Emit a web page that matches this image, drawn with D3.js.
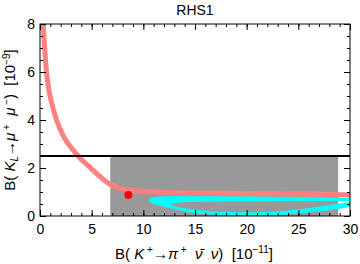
<!DOCTYPE html>
<html>
<head>
<meta charset="utf-8">
<script src="https://cdn.jsdelivr.net/npm/d3@7"></script>
<style>
  body { margin: 0; background: #fff; }
  svg { display: block; }
  text { font-family: "Liberation Sans", Arial, sans-serif; }
</style>
</head>
<body>
<div id="chart"></div>
<script>
// chart values
const title = "RHS1";
const xTicks = [0, 5, 10, 15, 20, 25, 30];
const yTicks = [0, 2, 4, 6, 8];
const xMinor = d3.range(0, 31, 1);
const yMinor = d3.range(0, 8.01, 0.5);
const klBound = 2.5;              // horizontal bound on B(KL -> mu mu)
const kpRange = [6.8, 28.85];     // allowed B(K+ -> pi nu nu) range (grey box)
const smPoint = [8.55, 0.875];

// pink band (centre line)
const pinkBand = [
  [0.28, 8.6], [0.32, 8.0], [0.45, 7.0], [0.61, 6.08], [0.84, 5.3], [1.2, 4.6],
  [1.6, 4.0], [2.3, 3.3], [3.1, 2.8], [3.8, 2.45], [4.9, 2.0], [5.7, 1.68],
  [6.5, 1.4], [7.3, 1.22], [8.3, 1.1], [9.5, 1.04], [11, 1.0], [13, 0.97],
  [16, 0.95], [20, 0.94], [25, 0.92], [28, 0.9], [30, 0.88], [31, 0.87]
];

// cyan region: outer contour and inner hole
const cyanOuter = [
  [31, 0.76], [30, 0.76], [25, 0.79], [20, 0.81], [15, 0.82], [13, 0.83], [12, 0.82],
  [11.3, 0.8], [10.8, 0.76], [10.5, 0.67], [10.7, 0.56], [11.3, 0.46], [12.9, 0.29],
  [14.5, 0.15], [16.1, 0.07], [18, 0.03], [20, 0.01], [22, 0.02], [23.5, 0.05],
  [24.9, 0.1], [27.1, 0.2], [28.7, 0.28], [30, 0.375], [31, 0.43]
];
const cyanHole = [
  [31, 0.63], [30, 0.625], [25, 0.61], [20, 0.6], [16, 0.59], [14, 0.57], [13, 0.53],
  [12.6, 0.48], [12.9, 0.43], [14.5, 0.29], [16.1, 0.21], [18, 0.17], [20, 0.16],
  [22, 0.17], [24.9, 0.27], [27.1, 0.4], [28.7, 0.5], [30, 0.58], [31, 0.615]
];

const width = 360, height = 264;
const margin = { left: 40, right: 10, top: 24, bottom: 48 };

const svg = d3.select("#chart").append("svg")
  .attr("width", width)
  .attr("height", height);

const x = d3.scaleLinear().domain([0, 30]).range([margin.left, width - margin.right]);
const y = d3.scaleLinear().domain([0, 8]).range([height - margin.bottom, margin.top]);

svg.append("clipPath").attr("id", "plot")
  .append("rect")
  .attr("x", x(0)).attr("y", y(8))
  .attr("width", x(30) - x(0)).attr("height", y(0) - y(8));

const plot = svg.append("g").attr("clip-path", "url(#plot)");

// grey allowed box
plot.append("rect")
  .attr("x", x(kpRange[0]))
  .attr("y", y(klBound))
  .attr("width", x(kpRange[1]) - x(kpRange[0]))
  .attr("height", y(0) - y(klBound))
  .attr("fill", "#999999");

// cyan ring
const contour = d3.line().x(d => x(d[0])).y(d => y(d[1])).curve(d3.curveCatmullRomClosed);
plot.append("path")
  .attr("d", contour(cyanOuter) + contour(cyanHole))
  .attr("fill", "#00ffff")
  .attr("fill-rule", "evenodd");

// pink band
plot.append("path")
  .attr("d", d3.line().x(d => x(d[0])).y(d => y(d[1])).curve(d3.curveMonotoneX)(pinkBand))
  .attr("fill", "none")
  .attr("stroke", "#ff8080")
  .attr("stroke-width", 5);

// horizontal bound
plot.append("line")
  .attr("x1", x(0)).attr("x2", x(30))
  .attr("y1", y(klBound)).attr("y2", y(klBound))
  .attr("stroke", "#000")
  .attr("stroke-width", 2);

// SM point
plot.append("circle")
  .attr("cx", x(smPoint[0])).attr("cy", y(smPoint[1]))
  .attr("r", 4)
  .attr("fill", "#ff0000");

// axes with inward ticks on all sides
function styleAxis(g) {
  g.select(".domain").remove();
  g.selectAll("line").attr("stroke", "#000");
  g.selectAll("text").attr("font-size", 14).attr("fill", "#000")
    .style("font-family", "'Liberation Sans', Arial, sans-serif");
}

svg.append("g").attr("transform", `translate(0,${y(0)})`)
  .call(d3.axisBottom(x).tickValues(xMinor).tickSize(-3).tickFormat("")).call(styleAxis);
svg.append("g").attr("transform", `translate(0,${y(0)})`)
  .call(d3.axisBottom(x).tickValues(xTicks).tickSize(-6).tickPadding(8).tickFormat(d3.format("d"))).call(styleAxis);
svg.append("g").attr("transform", `translate(0,${y(8)})`)
  .call(d3.axisTop(x).tickValues(xMinor).tickSize(-3).tickFormat("")).call(styleAxis);
svg.append("g").attr("transform", `translate(0,${y(8)})`)
  .call(d3.axisTop(x).tickValues(xTicks).tickSize(-6).tickFormat("")).call(styleAxis);

svg.append("g").attr("transform", `translate(${x(0)},0)`)
  .call(d3.axisLeft(y).tickValues(yMinor).tickSize(-3).tickFormat("")).call(styleAxis);
svg.append("g").attr("transform", `translate(${x(0)},0)`)
  .call(d3.axisLeft(y).tickValues(yTicks).tickSize(-6).tickPadding(5).tickFormat(d3.format("d"))).call(styleAxis);
svg.append("g").attr("transform", `translate(${x(30)},0)`)
  .call(d3.axisRight(y).tickValues(yMinor).tickSize(-3).tickFormat("")).call(styleAxis);
svg.append("g").attr("transform", `translate(${x(30)},0)`)
  .call(d3.axisRight(y).tickValues(yTicks).tickSize(-6).tickFormat("")).call(styleAxis);

// frame
svg.append("rect")
  .attr("x", x(0)).attr("y", y(8))
  .attr("width", x(30) - x(0)).attr("height", y(0) - y(8))
  .attr("fill", "none")
  .attr("stroke", "#000")
  .attr("stroke-width", 1);

// title
svg.append("text")
  .attr("x", (x(0) + x(30)) / 2).attr("y", 15)
  .attr("text-anchor", "middle")
  .attr("font-size", 14)
  .text(title);

// helper to write label pieces
function addPieces(t, pieces, supShift) {
  pieces.forEach(p => {
    const s = t.append("tspan").text(p.t);
    if (p.i) s.attr("font-style", "italic");
    if (p.sup) s.attr("dy", -supShift).attr("font-size", 10);
    if (p.sub) s.attr("dy", 3).attr("font-size", 10);
    if (p.back) s.attr("dy", p.back);
  });
}

const xLabel = svg.append("text")
  .attr("x", (x(0) + x(30)) / 2 - 1).attr("y", 259)
  .attr("text-anchor", "middle")
  .attr("font-size", 15)
  .attr("xml:space", "preserve");
addPieces(xLabel, [
  { t: "B( " }, { t: "K", i: true }, { t: " +", sup: true }, { t: "\u2192", back: 6 },
  { t: "\u03c0", i: true }, { t: " +", sup: true }, { t: "  ", back: 6 },
  { t: "\u03bd\u0304", i: true }, { t: "  " }, { t: "\u03bd", i: true }, { t: ")  [10" },
  { t: "\u221211", sup: true }, { t: "]", back: 6 }
], 6);

const yLabel = svg.append("text")
  .attr("transform", `translate(15,${(y(0) + y(8)) / 2}) rotate(-90)`)
  .attr("text-anchor", "middle")
  .attr("font-size", 15)
  .attr("xml:space", "preserve");
addPieces(yLabel, [
  { t: "B( " }, { t: "K", i: true }, { t: "L", i: true, sub: true }, { t: "\u2192", back: -3 },
  { t: "\u03bc", i: true }, { t: " +", sup: true }, { t: "  ", back: 5 }, { t: "\u03bc", i: true },
  { t: " \u2212", sup: true }, { t: ")  [10", back: 5 }, { t: "\u22129", sup: true }, { t: "]", back: 5 }
], 5);
</script>
</body>
</html>
